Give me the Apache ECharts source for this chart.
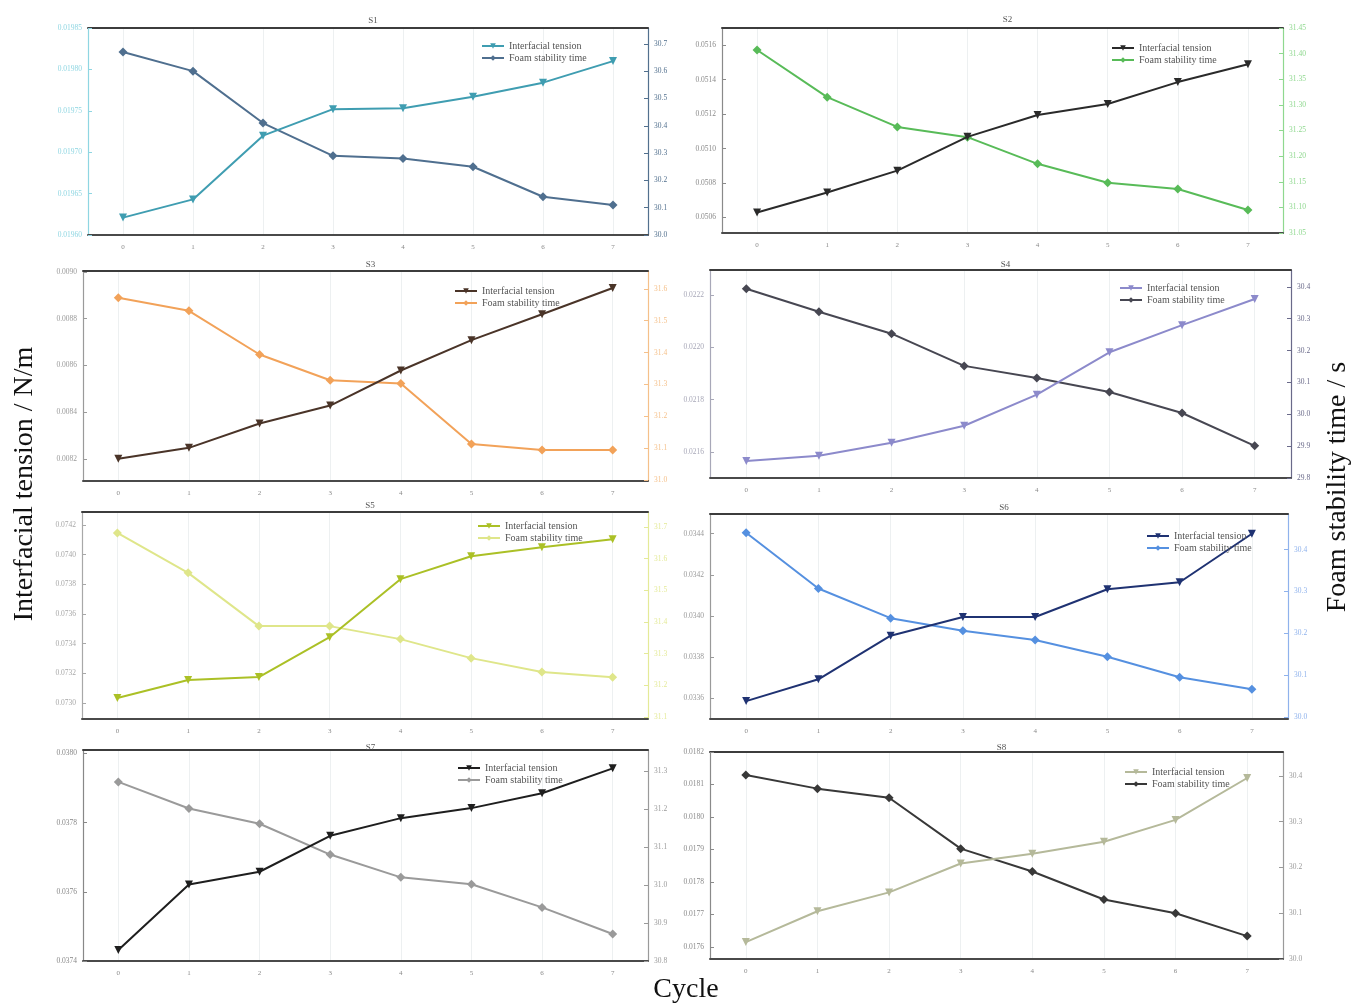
<!DOCTYPE html>
<html>
<head>
<meta charset="utf-8">
<script src="https://cdn.jsdelivr.net/npm/echarts@6/dist/echarts.min.js"></script>
<style>
  html, body { margin: 0; padding: 0; background: #fff; }
  #chart { width: 1351px; height: 1004px; }
</style>
</head>
<body>
<div id="chart"></div>
<script>
// ---- data: interfacial tension (N/m) and foam stability time (s) per cycle ----
const cycles = ['0', '1', '2', '3', '4', '5', '6', '7'];
const sampleNames = ['S1', 'S2', 'S3', 'S4', 'S5', 'S6', 'S7', 'S8'];

const s1Tension   = [0.019621, 0.019643, 0.019720, 0.019752, 0.019753, 0.019767, 0.019784, 0.019810];
const s1Stability = [30.67, 30.60, 30.41, 30.29, 30.28, 30.25, 30.14, 30.11];
const s1TensionTicks   = [0.01960, 0.01965, 0.01970, 0.01975, 0.01980, 0.01985];
const s1StabilityTicks = [30.0, 30.1, 30.2, 30.3, 30.4, 30.5, 30.6, 30.7];
const s1TensionRange   = [0.01960, 0.01985];
const s1StabilityRange = [30.0, 30.758];

const s2Tension   = [0.050629, 0.050745, 0.050872, 0.051068, 0.051195, 0.051259, 0.051386, 0.051490];
const s2Stability = [31.407, 31.315, 31.257, 31.237, 31.185, 31.148, 31.136, 31.095];
const s2TensionTicks   = [0.0506, 0.0508, 0.0510, 0.0512, 0.0514, 0.0516];
const s2StabilityTicks = [31.05, 31.10, 31.15, 31.20, 31.25, 31.30, 31.35, 31.40, 31.45];
const s2TensionRange   = [0.05051, 0.05170];
const s2StabilityRange = [31.05, 31.45];

const s3Tension   = [0.008200, 0.008247, 0.008351, 0.008428, 0.008578, 0.008708, 0.008819, 0.008931];
const s3Stability = [31.572, 31.531, 31.394, 31.313, 31.303, 31.113, 31.094, 31.094];
const s3TensionTicks   = [0.0082, 0.0084, 0.0086, 0.0088, 0.0090];
const s3StabilityTicks = [31.0, 31.1, 31.2, 31.3, 31.4, 31.5, 31.6];
const s3TensionRange   = [0.008105, 0.009004];
const s3StabilityRange = [30.997, 31.656];

const s4Tension   = [0.021565, 0.021585, 0.021635, 0.021700, 0.021819, 0.021981, 0.022085, 0.022185];
const s4Stability = [30.394, 30.322, 30.253, 30.152, 30.114, 30.070, 30.004, 29.901];
const s4TensionTicks   = [0.0216, 0.0218, 0.0220, 0.0222];
const s4StabilityTicks = [29.8, 29.9, 30.0, 30.1, 30.2, 30.3, 30.4];
const s4TensionRange   = [0.0215, 0.022296];
const s4StabilityRange = [29.8, 30.453];

const s5Tension   = [0.073034, 0.073155, 0.073175, 0.073444, 0.073835, 0.073990, 0.074050, 0.074104];
const s5Stability = [31.681, 31.555, 31.387, 31.387, 31.346, 31.286, 31.242, 31.226];
const s5TensionTicks   = [0.0730, 0.0732, 0.0734, 0.0736, 0.0738, 0.0740, 0.0742];
const s5StabilityTicks = [31.1, 31.2, 31.3, 31.4, 31.5, 31.6, 31.7];
const s5TensionRange   = [0.072892, 0.074288];
const s5StabilityRange = [31.094, 31.747];

const s6Tension   = [0.033586, 0.033692, 0.033904, 0.033995, 0.033995, 0.034130, 0.034164, 0.034400];
const s6Stability = [30.440, 30.307, 30.236, 30.206, 30.184, 30.144, 30.095, 30.066];
const s6TensionTicks   = [0.0336, 0.0338, 0.0340, 0.0342, 0.0344];
const s6StabilityTicks = [30.0, 30.1, 30.2, 30.3, 30.4];
const s6TensionRange   = [0.033499, 0.034496];
const s6StabilityRange = [29.995, 30.485];

const s7Tension   = [0.037432, 0.037621, 0.037658, 0.037762, 0.037813, 0.037842, 0.037885, 0.037957];
const s7Stability = [31.271, 31.201, 31.161, 31.080, 31.020, 31.002, 30.941, 30.871];
const s7TensionTicks   = [0.0374, 0.0376, 0.0378, 0.0380];
const s7StabilityTicks = [30.8, 30.9, 31.0, 31.1, 31.2, 31.3];
const s7TensionRange   = [0.0374, 0.03801];
const s7StabilityRange = [30.8, 31.355];

const s8Tension   = [0.017615, 0.017710, 0.017768, 0.017857, 0.017887, 0.017924, 0.017991, 0.018120];
const s8Stability = [30.402, 30.372, 30.352, 30.241, 30.191, 30.130, 30.100, 30.050];
const s8TensionTicks   = [0.0176, 0.0177, 0.0178, 0.0179, 0.0180, 0.0181, 0.0182];
const s8StabilityTicks = [30.0, 30.1, 30.2, 30.3, 30.4];
const s8TensionRange   = [0.017563, 0.0182];
const s8StabilityRange = [30.0, 30.452];

const panels = [
  { tension: s1Tension, stability: s1Stability, tTicks: s1TensionTicks, sTicks: s1StabilityTicks, tRange: s1TensionRange, sRange: s1StabilityRange },
  { tension: s2Tension, stability: s2Stability, tTicks: s2TensionTicks, sTicks: s2StabilityTicks, tRange: s2TensionRange, sRange: s2StabilityRange },
  { tension: s3Tension, stability: s3Stability, tTicks: s3TensionTicks, sTicks: s3StabilityTicks, tRange: s3TensionRange, sRange: s3StabilityRange },
  { tension: s4Tension, stability: s4Stability, tTicks: s4TensionTicks, sTicks: s4StabilityTicks, tRange: s4TensionRange, sRange: s4StabilityRange },
  { tension: s5Tension, stability: s5Stability, tTicks: s5TensionTicks, sTicks: s5StabilityTicks, tRange: s5TensionRange, sRange: s5StabilityRange },
  { tension: s6Tension, stability: s6Stability, tTicks: s6TensionTicks, sTicks: s6StabilityTicks, tRange: s6TensionRange, sRange: s6StabilityRange },
  { tension: s7Tension, stability: s7Stability, tTicks: s7TensionTicks, sTicks: s7StabilityTicks, tRange: s7TensionRange, sRange: s7StabilityRange },
  { tension: s8Tension, stability: s8Stability, tTicks: s8TensionTicks, sTicks: s8StabilityTicks, tRange: s8TensionRange, sRange: s8StabilityRange }
];

// ---- layout of the 4 x 2 panel grid ----
const boxes = [
  { left: 88,  top: 28,  width: 560, height: 207, legend: [476, 36],   titleY: 11 },
  { left: 722, top: 28,  width: 561, height: 205, legend: [1106, 38],  titleY: 10 },
  { left: 83,  top: 271, width: 565, height: 210, legend: [449, 281],  titleY: 255 },
  { left: 710, top: 270, width: 581, height: 208, legend: [1114, 278], titleY: 255 },
  { left: 82,  top: 512, width: 566, height: 207, legend: [472, 516],  titleY: 496 },
  { left: 710, top: 514, width: 578, height: 205, legend: [1141, 526], titleY: 498 },
  { left: 83,  top: 750, width: 565, height: 211, legend: [452, 758],  titleY: 738 },
  { left: 710, top: 752, width: 573, height: 207, legend: [1119, 762], titleY: 738 }
];

// ---- colours: tension line, stability line, left spine, right spine ----
const palettes = [
  { t: '#3f9db1', s: '#4f6f8f', la: '#8fd6e2', ra: '#52708e' },
  { t: '#2a2a2a', s: '#58bb58', la: '#8a8a8a', ra: '#8fd88f' },
  { t: '#4a3428', s: '#f2a259', la: '#9a9a9a', ra: '#f5c08a' },
  { t: '#8c8acb', s: '#474752', la: '#a8a8b8', ra: '#6a6a8a' },
  { t: '#abc026', s: '#dfe68a', la: '#a8a8a8', ra: '#e4ea98' },
  { t: '#1f3272', s: '#5590e0', la: '#9a9a9a', ra: '#8fb2ec' },
  { t: '#1e1e1e', s: '#9a9a9a', la: '#888888', ra: '#9a9a9a' },
  { t: '#b5b99a', s: '#383838', la: '#8a8a8a', ra: '#9a9a9a' }
];

const SERIF = '"Liberation Serif", "DejaVu Serif", serif';
const TENSION_LABEL = 'Interfacial tension';
const STABILITY_LABEL = 'Foam stability time';

function decimalsOf(ticks) {
  return ticks.reduce((m, v) => {
    const s = String(v);
    const d = s.includes('.') ? s.split('.')[1].length : 0;
    return Math.max(m, d);
  }, 0);
}

const grid = [], xAxis = [], yAxis = [], series = [], legend = [], title = [];

panels.forEach((p, i) => {
  const b = boxes[i];
  const c = palettes[i];
  const tName = sampleNames[i] + ' | ' + TENSION_LABEL;
  const sName = sampleNames[i] + ' | ' + STABILITY_LABEL;
  const tDec = decimalsOf(p.tTicks);
  const sDec = decimalsOf(p.sTicks);

  grid.push({ left: b.left, top: b.top, width: b.width, height: b.height });

  // bottom cycle axis
  xAxis.push({
    type: 'category', gridIndex: i, data: cycles, position: 'bottom', boundaryGap: true,
    axisLine: { lineStyle: { color: '#4a4a4a', width: 2 } },
    axisTick: { inside: true, alignWithLabel: true, length: 4, lineStyle: { color: '#555' } },
    axisLabel: { fontSize: 7, color: '#8a8a8a', margin: 9, fontFamily: SERIF },
    splitLine: { show: true, alignWithLabel: true, lineStyle: { color: '#edf0f1', width: 1 } }
  });
  // top frame
  xAxis.push({
    type: 'category', gridIndex: i, data: cycles, position: 'top', boundaryGap: true,
    axisLine: { lineStyle: { color: '#3c3c3c', width: 2 } },
    axisTick: { inside: true, alignWithLabel: true, length: 4, lineStyle: { color: '#666' } },
    axisLabel: { show: false },
    splitLine: { show: false }
  });

  // left: interfacial tension
  yAxis.push({
    type: 'value', gridIndex: i, position: 'left', min: p.tRange[0], max: p.tRange[1],
    axisLine: { show: true, lineStyle: { color: c.la, width: 1.2 } },
    axisTick: { show: true, inside: true, length: 4, customValues: p.tTicks, lineStyle: { color: c.la } },
    axisLabel: {
      customValues: p.tTicks, fontSize: 7.5, color: c.la, margin: 6, fontFamily: SERIF,
      formatter: v => Number(v).toFixed(tDec)
    },
    splitLine: { show: false }
  });
  // right: foam stability time
  yAxis.push({
    type: 'value', gridIndex: i, position: 'right', min: p.sRange[0], max: p.sRange[1],
    axisLine: { show: true, lineStyle: { color: c.ra, width: 1.2 } },
    axisTick: { show: true, inside: true, length: 4, customValues: p.sTicks, lineStyle: { color: c.ra } },
    axisLabel: {
      customValues: p.sTicks, fontSize: 7.5, color: c.ra, margin: 6, fontFamily: SERIF,
      formatter: v => Number(v).toFixed(sDec)
    },
    splitLine: { show: false }
  });

  series.push({
    type: 'line', name: tName, xAxisIndex: 2 * i, yAxisIndex: 2 * i, data: p.tension,
    symbol: 'triangle', symbolRotate: 180, symbolSize: 8, showAllSymbol: true,
    lineStyle: { color: c.t, width: 2 }, itemStyle: { color: c.t },
    z: 3
  });
  series.push({
    type: 'line', name: sName, xAxisIndex: 2 * i, yAxisIndex: 2 * i + 1, data: p.stability,
    symbol: 'diamond', symbolSize: 9, showAllSymbol: true,
    lineStyle: { color: c.s, width: 2 }, itemStyle: { color: c.s },
    z: 2
  });

  legend.push({
    data: [tName, sName], orient: 'vertical', left: b.legend[0], top: b.legend[1],
    itemWidth: 22, itemHeight: 7, itemGap: 2, selectedMode: false,
    textStyle: { fontSize: 10, color: '#555', fontFamily: SERIF },
    formatter: n => n.split(' | ')[1]
  });

  title.push({
    text: sampleNames[i], left: b.left + b.width / 2, top: b.titleY, textAlign: 'center',
    textStyle: { fontSize: 9, fontWeight: 'normal', color: '#555', fontFamily: SERIF }
  });
});

const chart = echarts.init(document.getElementById('chart'));
chart.setOption({
  backgroundColor: '#ffffff',
  animation: false,
  title, grid, xAxis, yAxis, series, legend,
  graphic: [
    {
      type: 'text', x: 25, y: 484, rotation: Math.PI / 2,
      style: { text: 'Interfacial tension / N/m', font: '28px ' + SERIF, fill: '#111', textAlign: 'center', textVerticalAlign: 'middle' }
    },
    {
      type: 'text', x: 1338, y: 487, rotation: Math.PI / 2,
      style: { text: 'Foam stability time / s', font: '28px ' + SERIF, fill: '#111', textAlign: 'center', textVerticalAlign: 'middle' }
    },
    {
      type: 'text', x: 686, y: 990,
      style: { text: 'Cycle', font: '28px ' + SERIF, fill: '#111', textAlign: 'center', textVerticalAlign: 'middle' }
    }
  ]
});
</script>
</body>
</html>
